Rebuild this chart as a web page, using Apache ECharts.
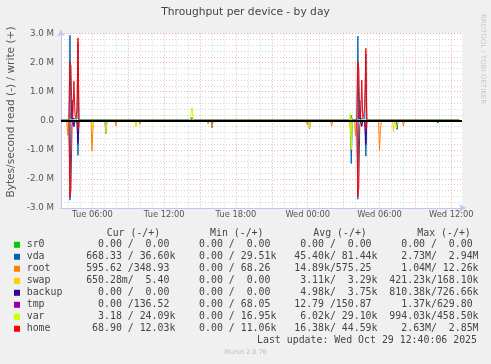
<!DOCTYPE html>
<html><head><meta charset="utf-8">
<script src="https://cdn.jsdelivr.net/npm/echarts@6/dist/echarts.min.js"></script>
<style>html,body{margin:0;padding:0;background:#f0f0f0}#c{width:491px;height:364px}</style>
</head><body><div id="c"></div>
<script>
// x values: hours since Tue 00:00 ; y values: bytes/second
const xMin = 3.37, xMax = 36.9;
const labelHours = [6, 12, 18, 24, 30, 36];
const labelTexts = ['Tue 06:00', 'Tue 12:00', 'Tue 18:00', 'Wed 00:00', 'Wed 06:00', 'Wed 12:00'];
const majorHours = [6, 9, 12, 15, 18, 21, 24, 27, 30, 33, 36];
const minorHours = [4, 5, 7, 8, 10, 11, 13, 14, 16, 17, 19, 20, 22, 23, 25, 26, 28, 29, 31, 32, 34, 35];
const yMin = -3e6, yMax = 3e6, yStep = 1e6;

const deviceNames = ['sr0', 'vda', 'root', 'swap', 'backup', 'tmp', 'var', 'home'];
const deviceColors = ['#00CC00', '#0066B3', '#FF8000', '#FFCC00', '#330099', '#990099', '#CCFF00', '#FF0000'];

// read values (drawn negative) and write values (drawn positive), [hour, bytes/s]
const sr0Read = [[3.37,0],[36.67,0]];
const sr0Write = [[3.37,0],[36.67,0]];
const vdaRead = [[3.37,0],[4.04,0],[4.12,2.73e6],[4.2,0],[4.71,0],[4.79,1.19e6],[4.87,0],[7.04,0],[7.13,0.44e6],[7.21,0],[15.92,0],[16.0,0.24e6],[16.08,0],[24.07,0],[24.15,0.28e6],[24.23,0],[27.56,0],[27.64,1.47e6],[27.72,0],[28.11,0],[28.19,2.7e6],[28.27,0],[28.77,0],[28.86,1.22e6],[28.94,0],[31.39,0],[31.47,0.3e6],[31.55,0],[34.79,0],[34.87,0.08e6],[34.95,0],[36.67,668]];
const vdaWrite = [[3.37,33e3],[4.04,35e3],[4.12,2.94e6],[4.2,90e3],[4.71,60e3],[4.79,2.7e6],[4.87,35e3],[14.25,33e3],[14.33,110e3],[14.41,33e3],[27.56,33e3],[27.64,180e3],[27.72,40e3],[28.11,40e3],[28.19,2.91e6],[28.27,80e3],[28.77,60e3],[28.86,2.3e6],[28.94,35e3],[36.67,36.6e3]];
const rootRead = [[3.37,0],[3.85,0],[3.93,0.5e6],[4.01,0],[5.88,0],[5.96,1.04e6],[6.04,0.3e6],[6.12,0],[7.88,0],[7.96,0.18e6],[8.04,0],[9.88,0],[9.96,0.12e6],[10.04,0],[15.59,0],[15.67,0.1e6],[15.75,0],[15.92,0],[16.0,0.22e6],[16.08,0],[23.88,0],[23.96,0.13e6],[24.04,0],[25.92,0],[26.0,0.18e6],[26.08,0],[27.91,0],[27.99,0.53e6],[28.07,0],[29.92,0],[30.0,1.04e6],[30.08,0.3e6],[30.16,0],[31.92,0],[32.0,0.18e6],[32.08,0],[36.67,596]];
const rootWrite = [[3.37,300],[4.04,300],[4.12,12e3],[4.2,300],[28.11,300],[28.19,12e3],[28.27,300],[36.67,349]];
const swapRead = [[3.37,0],[5.96,0],[6.04,0.2e6],[6.12,0],[7.04,0],[7.13,0.42e6],[7.21,0],[9.54,0],[9.63,0.2e6],[9.71,0],[24.07,0],[24.15,0.26e6],[24.23,0],[27.48,0],[27.56,0.35e6],[27.64,0.3e6],[27.72,0],[31.09,0],[31.17,0.38e6],[31.25,0],[36.67,0.65]];
const swapWrite = [[3.37,0],[27.48,0],[27.56,0.168e6],[27.64,0],[36.67,5.4]];
const backupRead = [[3.37,0],[4.37,0],[4.45,0.21e6],[4.54,0],[4.71,0],[4.79,0.78e6],[4.87,0],[28.44,0],[28.52,0.2e6],[28.6,0],[28.77,0],[28.86,0.81e6],[28.94,0],[36.67,0]];
const backupWrite = [[3.37,0],[4.2,0],[4.29,0.72e6],[4.37,0],[28.27,0],[28.35,0.7e6],[28.44,0],[36.67,0]];
const tmpRead = [[3.37,0],[36.67,0]];
const tmpWrite = [[3.37,140],[36.67,137]];
const varRead = [[3.37,0],[5.96,0],[6.04,0.15e6],[6.12,0],[9.54,0],[9.63,0.21e6],[9.71,0],[24.07,0],[24.15,0.2e6],[24.23,0],[27.56,0],[27.64,0.99e6],[27.72,0],[31.31,0],[31.39,0.25e6],[31.47,0.3e6],[31.55,0],[36.67,3.18]];
const varWrite = [[3.37,20e3],[14.17,20e3],[14.25,0.3e6],[14.33,0.46e6],[14.41,20e3],[27.48,20e3],[27.56,0.25e6],[27.64,20e3],[36.67,24e3]];
const homeRead = [[3.37,0],[4.04,0],[4.12,2.63e6],[4.2,2.4e6],[4.29,0.2e6],[4.37,0],[4.71,0],[4.79,0.3e6],[4.87,0],[28.11,0],[28.19,2.6e6],[28.27,2.3e6],[28.35,0.2e6],[28.44,0],[28.77,0],[28.86,0.3e6],[28.94,0],[36.67,69]];
const homeWrite = [[3.37,12e3],[4.04,12e3],[4.12,2.03e6],[4.2,1.9e6],[4.29,0.1e6],[4.37,0.3e6],[4.45,1.36e6],[4.54,0.2e6],[4.62,0.1e6],[4.71,0.4e6],[4.79,2.85e6],[4.87,12e3],[28.11,12e3],[28.19,2.03e6],[28.27,1.8e6],[28.35,0.1e6],[28.44,0.3e6],[28.52,1.4e6],[28.6,0.1e6],[28.69,0.2e6],[28.77,0.5e6],[28.86,2.49e6],[28.94,12e3],[36.67,12e3]];

// legend table text
const headerTexts = ['Cur (-/+)', 'Min (-/+)', 'Avg (-/+)', 'Max (-/+)'];
const curVals = ['  0.00 /  0.00 ', '668.33 / 36.60k', '595.62 /348.93 ', '650.28m/  5.40 ', '  0.00 /  0.00 ', '  0.00 /136.52 ', '  3.18 / 24.09k', ' 68.90 / 12.03k'];
const minVals = ['  0.00 /  0.00 ', '  0.00 / 29.51k', '  0.00 / 68.26 ', '  0.00 /  0.00 ', '  0.00 /  0.00 ', '  0.00 / 68.05 ', '  0.00 / 16.95k', '  0.00 / 11.06k'];
const avgVals = ['  0.00 /  0.00 ', ' 45.40k/ 81.44k', ' 14.89k/575.25 ', '  3.11k/  3.29k', '  4.98k/  3.75k', ' 12.79 /150.87 ', '  6.02k/ 29.10k', ' 16.38k/ 44.59k'];
const maxVals = ['  0.00 /  0.00 ', '  2.73M/  2.94M', '  1.04M/ 12.26k', '421.23k/168.10k', '810.38k/726.66k', '  1.37k/629.80 ', '994.03k/458.50k', '  2.63M/  2.85M'];
const lastUpdate = 'Last update: Wed Oct 29 12:40:06 2025';
const titleText = 'Throughput per device - by day';
const yAxisName = 'Bytes/second read (-) / write (+)';
const sideText = 'RRDTOOL / TOBI OETIKER';
const footerText = 'Munin 2.0.76';

const reads = [sr0Read, vdaRead, rootRead, swapRead, backupRead, tmpRead, varRead, homeRead];
const writes = [sr0Write, vdaWrite, rootWrite, swapWrite, backupWrite, tmpWrite, varWrite, homeWrite];

const chart = echarts.init(document.getElementById('c'), null, {renderer: 'canvas', width: 491, height: 364});

const series = [];
deviceNames.forEach((n, i) => {
  const base = {type: 'line', showSymbol: false, symbol: 'none', animation: false, silent: true,
    lineStyle: {color: deviceColors[i], width: 1}, itemStyle: {color: deviceColors[i]}, z: 3};
  series.push(Object.assign({}, base, {name: n + ' read', data: reads[i].map(p => [p[0], -p[1]])}));
  series.push(Object.assign({}, base, {name: n + ' write', data: writes[i]}));
});
series[0].markLine = {silent: true, symbol: 'none', animation: false, label: {show: false},
  lineStyle: {color: '#000', width: 2, type: 'solid'}, data: [{yAxis: 0}]};

const font = '"DejaVu Sans", Verdana, sans-serif';
const mono = '"DejaVu Sans Mono", monospace';
const majorColor = '#eeaaaa';
const minorColor = '#d2d2d2';
const axisColor = '#c4c4f0';
const textColor = '#454545';

const xBase = {type: 'value', min: xMin, max: xMax, gridIndex: 0, position: 'bottom'};

const graphic = [];
graphic.push({type: 'text', x: 245.5, y: 12, style: {text: titleText, align: 'center', verticalAlign: 'middle', font: '10.7px ' + font, fill: '#444'}});
graphic.push({type: 'text', x: 11, y: 112, rotation: Math.PI / 2, style: {text: yAxisName, align: 'center', verticalAlign: 'middle', font: '10.6px ' + font, fill: '#555'}});
graphic.push({type: 'text', x: 483, y: 59, rotation: -Math.PI / 2, style: {text: sideText, align: 'center', verticalAlign: 'middle', font: '7px ' + font, fill: '#c8c8c8'}});
const headerX = [106.7, 210, 313.3, 417.3];
headerTexts.forEach((h, i) => {
  graphic.push({type: 'text', x: headerX[i], y: 233.5, style: {text: h, align: 'left', verticalAlign: 'middle', font: '9.9px ' + mono, fill: textColor}});
});
deviceNames.forEach((n, i) => {
  graphic.push({type: 'rect', shape: {x: 14, y: 241.8 + 12 * i, width: 6, height: 6}, style: {fill: deviceColors[i]}});
  const row = n.padEnd(10, ' ') + curVals[i] + '  ' + minVals[i] + '  ' + avgVals[i] + '  ' + maxVals[i];
  graphic.push({type: 'text', x: 26.7, y: 244.9 + 12 * i, style: {text: row, align: 'left', verticalAlign: 'middle', font: '9.9px ' + mono, fill: textColor}});
});
graphic.push({type: 'text', x: 477, y: 340.5, style: {text: lastUpdate, align: 'right', verticalAlign: 'middle', font: '9.9px ' + mono, fill: textColor}});
graphic.push({type: 'text', x: 245.5, y: 352.5, style: {text: footerText, align: 'center', verticalAlign: 'middle', font: '6.5px ' + font, fill: '#bdbdbd'}});

chart.setOption({
  backgroundColor: '#f0f0f0',
  animation: false,
  grid: {left: 61, right: 29, top: 33.5, bottom: 156, show: true, backgroundColor: '#ffffff', borderWidth: 0, containLabel: false},
  xAxis: [
    Object.assign({}, xBase, {
      axisLine: {show: true, onZero: false, symbol: ['none', 'arrow'], symbolSize: [6, 7], symbolOffset: [0, 4], lineStyle: {color: axisColor, width: 1}},
      axisTick: {show: false, customValues: labelHours},
      axisLabel: {customValues: labelHours, formatter: v => labelTexts[labelHours.indexOf(v)], color: '#555', fontSize: 8.3, fontFamily: font, margin: 3},
      splitLine: {show: false}
    }),
    Object.assign({}, xBase, {
      axisLine: {show: false, onZero: false}, axisTick: {show: false, customValues: majorHours}, axisLabel: {show: false},
      splitLine: {show: true, lineStyle: {color: majorColor, width: 1, type: [1, 2]}}
    }),
    Object.assign({}, xBase, {
      axisLine: {show: false, onZero: false}, axisTick: {show: false, customValues: minorHours}, axisLabel: {show: false},
      splitLine: {show: true, lineStyle: {color: minorColor, width: 1, type: [1, 2]}}
    })
  ],
  yAxis: {
    type: 'value', min: yMin, max: yMax, interval: yStep,
    axisLine: {show: true, onZero: false, symbol: ['none', 'arrow'], symbolSize: [6, 7], symbolOffset: [0, 4], lineStyle: {color: axisColor, width: 1}},
    axisTick: {show: false},
    minorTick: {show: false, splitNumber: 5},
    splitLine: {show: true, lineStyle: {color: majorColor, width: 1, type: [1, 2]}},
    minorSplitLine: {show: true, lineStyle: {color: minorColor, width: 1, type: [1, 2]}},
    axisLabel: {formatter: v => v === 0 ? '0.0' : (v / 1e6).toFixed(1) + ' M', color: '#555', fontSize: 8.7, fontFamily: font, margin: 7}
  },
  series: series,
  graphic: graphic
});
</script>
</body></html>
